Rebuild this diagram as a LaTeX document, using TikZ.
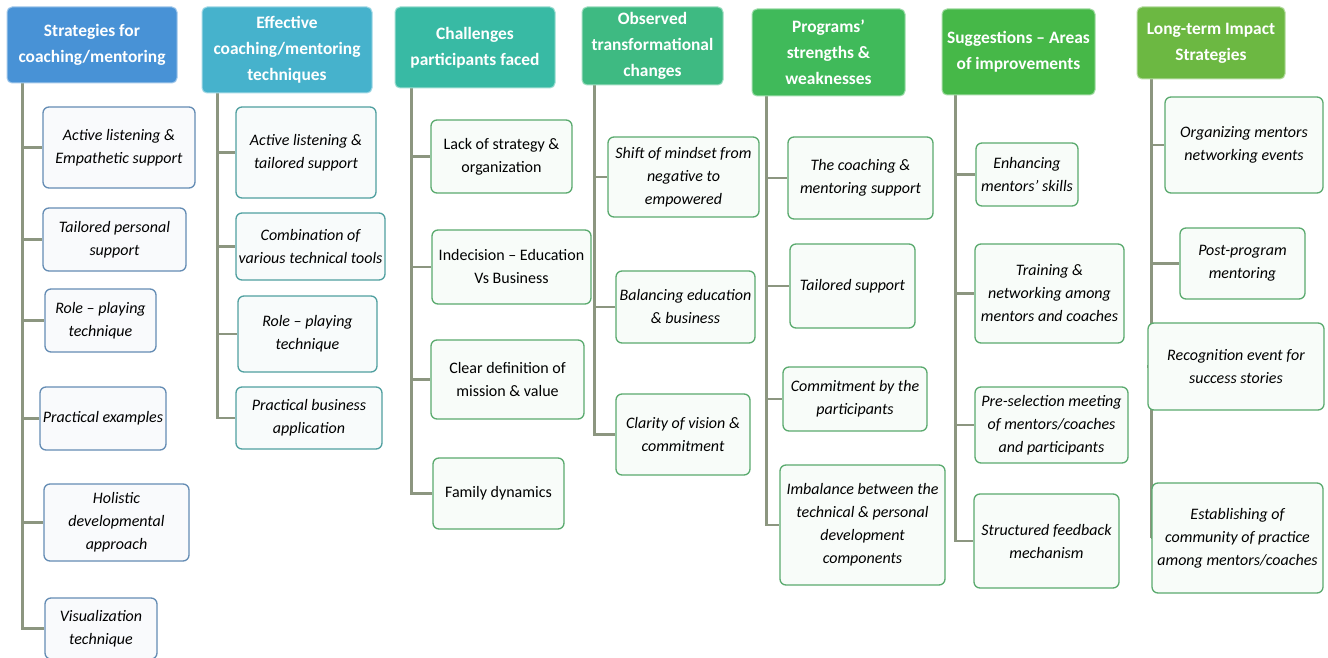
\documentclass[tikz,border=0pt]{standalone}
\usepackage{fontspec}
\setmainfont{Carlito}
\usetikzlibrary{backgrounds}

\definecolor{hdA}{RGB}{72,146,214}
\definecolor{hdB}{RGB}{70,178,204}
\definecolor{hdC}{RGB}{56,186,164}
\definecolor{hdD}{RGB}{62,186,130}
\definecolor{hdE}{RGB}{64,186,90}
\definecolor{hdF}{RGB}{70,184,72}
\definecolor{hdG}{RGB}{108,184,66}
\definecolor{bdA}{RGB}{100,140,180}
\definecolor{bdB}{RGB}{80,160,160}
\definecolor{bdC}{RGB}{90,170,110}
\definecolor{lnk}{RGB}{140,150,128}

\tikzset{
    head/.style={draw=#1!50!white, line width=1pt, fill=#1, rounded corners=5pt,
        text=white, align=center, inner sep=1pt,
        font=\fontsize{17.4}{26}\selectfont\bfseries},
    item/.style={draw=#1, line width=1.3pt, fill=#1!4!white, rounded corners=6pt,
        align=center, inner sep=1pt,
        font=\fontsize{16}{23}\selectfont\itshape},
    upright/.style={font=\fontsize{16}{23}\selectfont},
    sz/.style 2 args={minimum width=#1pt, minimum height=#2pt},
    link/.style={draw=lnk, line width=2.2pt},
}

\begin{document}
\begin{tikzpicture}[x=1pt, y=-1pt] %coaching/mentoring themes
            \useasboundingbox (0,0) rectangle (1328,658);

            % headers
            \node[head=hdA, sz={170}{76}] (h1) at (92,45) {Strategies for\\coaching/mentoring};
            \node[head=hdB, sz={170}{86}] (h2) at (287,50) {Effective\\coaching/mentoring\\techniques};
            \node[head=hdC, sz={160}{81}] (h3) at (475,47.5) {Challenges\\participants faced};
            \node[head=hdD, sz={141}{78}] (h4) at (652.5,46) {Observed\\transformational\\changes};
            \node[head=hdE, sz={153}{87}] (h5) at (828.5,52.5) {Programs’\\strengths \&\\weaknesses};
            \node[head=hdF, sz={153}{86}] (h6) at (1018.5,52) {Suggestions -- Areas\\of improvements};
            \node[head=hdG, sz={148}{72}] (h7) at (1211,43) {Long-term Impact\\Strategies};

            \coordinate (t1) at ([xshift=16pt]h1.south west);
            \coordinate (t2) at ([xshift=16pt]h2.south west);
            \coordinate (t3) at ([xshift=17pt]h3.south west);
            \coordinate (t4) at ([xshift=13pt]h4.south west);
            \coordinate (t5) at ([xshift=15pt]h5.south west);
            \coordinate (t6) at ([xshift=14pt]h6.south west);
            \coordinate (t7) at ([xshift=15pt]h7.south west);

            % strategies
            \node[item=bdA, sz={152}{81}] (c11) at (119,147.5) {Active listening \&\\Empathetic support};
            \node[item=bdA, sz={143}{63}] (c12) at (114.5,239.5) {Tailored personal\\support};
            \node[item=bdA, sz={111}{63}] (c13) at (100.5,320.5) {Role -- playing\\technique};
            \node[item=bdA, sz={126}{63}] (c14) at (103,418.5) {Practical examples};
            \node[item=bdA, sz={145}{77}] (c15) at (116.5,522.5) {Holistic\\developmental\\approach};
            \node[item=bdA, sz={112}{61}] (c16) at (101,628.5) {Visualization\\technique};

            % techniques
            \node[item=bdB, sz={140}{91}] (c21) at (306,152.5) {Active listening \&\\tailored support};
            \node[item=bdB, sz={149}{67}] (c22) at (310.5,246.5) {Combination of\\various technical tools};
            \node[item=bdB, sz={139}{76}] (c23) at (307.5,334) {Role -- playing\\technique};
            \node[item=bdB, sz={146}{62}] (c24) at (309,418) {Practical business\\application};

            % challenges
            \node[item=bdC, upright, sz={141}{73}] (c31) at (501.5,156.5) {Lack of strategy \&\\organization};
            \node[item=bdC, upright, sz={159}{74}] (c32) at (511.5,267) {Indecision -- Education\\Vs Business};
            \node[item=bdC, upright, sz={153}{79}] (c33) at (507.5,379.5) {Clear definition of\\mission \& value};
            \node[item=bdC, upright, sz={131}{71}] (c34) at (498.5,493.5) {Family dynamics};

            % changes
            \node[item=bdC, sz={151}{80}] (c41) at (683.5,177) {Shift of mindset from\\negative to\\empowered};
            \node[item=bdC, sz={139}{72}] (c42) at (685.5,307) {Balancing education\\\& business};
            \node[item=bdC, sz={134}{81}] (c43) at (683,434.5) {Clarity of vision \&\\commitment};

            % strengths and weaknesses
            \node[item=bdC, sz={145}{82}] (c51) at (860.5,178) {The coaching \&\\mentoring support};
            \node[item=bdC, sz={125}{84}] (c52) at (852.5,286) {Tailored support};
            \node[item=bdC, sz={144}{64}] (c53) at (855,399) {Commitment by the\\participants};
            \node[item=bdC, sz={165}{120}] (c54) at (862.5,525) {Imbalance between the\\technical \& personal\\development\\components};

            % suggestions
            \node[item=bdC, sz={102}{63}] (c61) at (1027,174.5) {Enhancing\\mentors’ skills};
            \node[item=bdC, sz={149}{99}] (c62) at (1049.5,293.5) {Training \&\\networking among\\mentors and coaches};
            \node[item=bdC, sz={153}{76}] (c63) at (1051.5,425) {Pre-selection meeting\\of mentors/coaches\\and participants};
            \node[item=bdC, sz={145}{94}] (c64) at (1046.5,541) {Structured feedback\\mechanism};

            % long-term
            \node[item=bdC, sz={158}{96}] (c71) at (1244,145) {Organizing mentors\\networking events};
            \node[item=bdC, sz={125}{71}] (c72) at (1242.5,263.5) {Post-program\\mentoring};
            \node[item=bdC, sz={176}{87}] (c73) at (1236,366.5) {Recognition event for\\success stories};
            \node[item=bdC, sz={171}{110}] (c74) at (1237.5,538) {Establishing of\\community of practice\\among mentors/coaches};

            \begin{scope}[on background layer]
            \fill[white] (0,0) rectangle (1328,658);
            \draw[link] (t1) |- (c11.west) (t1) |- (c12.west) (t1) |- (c13.west)
                        (t1) |- (c14.west) (t1) |- (c15.west) (t1) |- (c16.west);
            \draw[link] (t2) |- (c21.west) (t2) |- (c22.west) (t2) |- (c23.west)
                        (t2) |- (c24.west);
            \draw[link] (t3) |- (c31.west) (t3) |- (c32.west) (t3) |- (c33.west)
                        (t3) |- (c34.west);
            \draw[link] (t4) |- (c41.west) (t4) |- (c42.west) (t4) |- (c43.west);
            \draw[link] (t5) |- (c51.west) (t5) |- (c52.west) (t5) |- (c53.west)
                        (t5) |- (c54.west);
            \draw[link] (t6) |- (c61.west) (t6) |- (c62.west) (t6) |- (c63.west)
                        (t6) |- (c64.west);
            \draw[link] (t7) |- (c71.west) (t7) |- (c72.west) (t7) |- (c73.west)
                        (t7) |- (c74.west);
            \end{scope}
        \end{tikzpicture}
\end{document}
